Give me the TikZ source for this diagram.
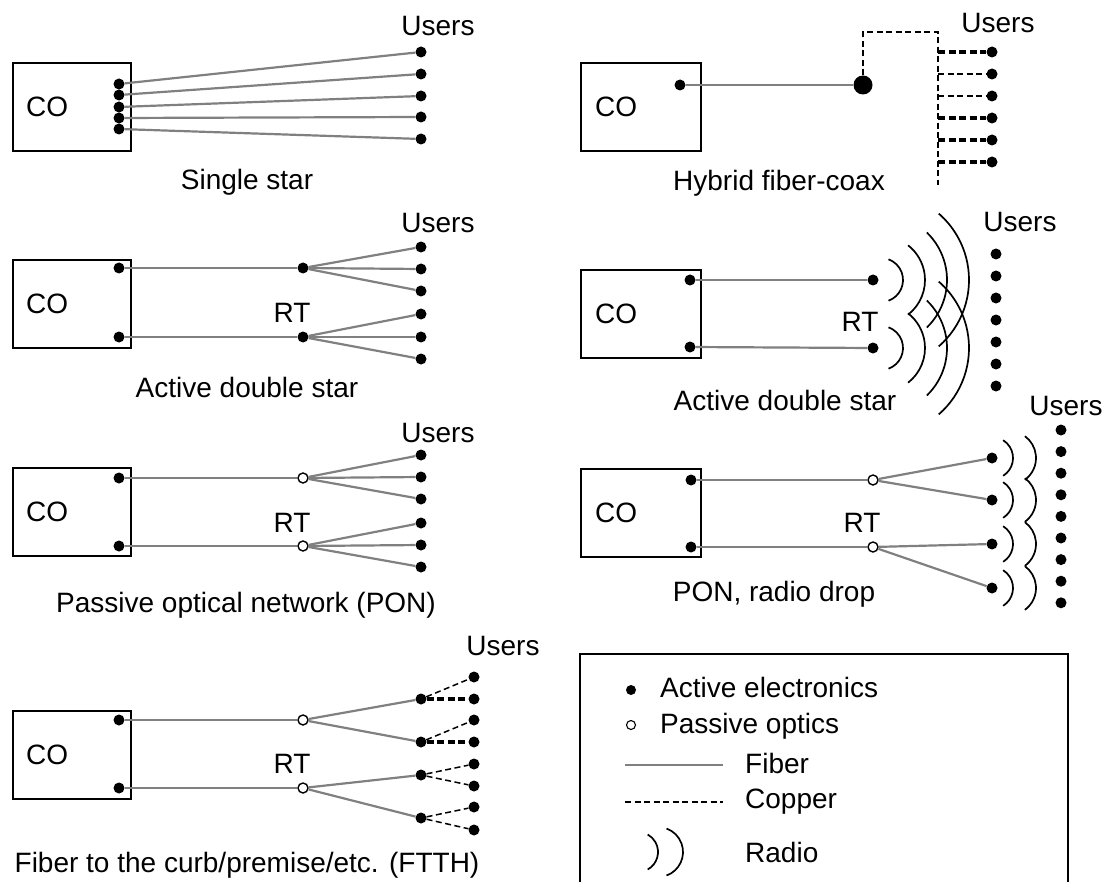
\documentclass[tikz,border=0pt]{standalone}
\usepackage{fontspec}
\setmainfont{Liberation Sans}
\usetikzlibrary{positioning}

\begin{document}
\begin{tikzpicture}[x=1pt,y=-1pt,
  lbl/.style={inner sep=0pt,font=\fontsize{28}{32}\selectfont},
  cobox/.style={draw,line width=2pt,minimum width=118pt,minimum height=88pt,inner sep=0pt},
  adot/.style={circle,fill=black,inner sep=0pt,minimum size=11pt},
  pdot/.style={circle,draw=black,fill=white,line width=1.4pt,inner sep=0pt,minimum size=10pt},
  fiber/.style={draw=black!50,line width=2.2pt},
  copper/.style={dash pattern=on 6pt off 3.5pt,line width=1.5pt},
  thickcu/.style={dash pattern=on 7pt off 3.5pt,line width=3.2pt},
  radio/.style={line width=1.7pt}]
  \useasboundingbox (0,0) rectangle (1107,882);
  % single star
  \node[cobox] (co1) at (72,107) {};
  \node[lbl,right=14pt of co1.west] (co1t) {CO};
  \foreach \i/\y in {1/84,2/95,3/107,4/118,5/129} \node[adot] (s\i) at (119,\y) {};
  \foreach \i/\y in {1/52,2/74,3/96,4/117,5/139} \node[adot] (su\i) at (421,\y) {};
  \foreach \i in {1,...,5} \draw[fiber] (s\i) -- (su\i);
  \node[lbl,anchor=base] (us1) at (438,36) {Users};
  \node[lbl,anchor=base] (cap1) at (247,190) {Single star};
  % active double star
  \node[cobox] (co2) at (72,304) {};
  \node[lbl,right=14pt of co2.west] (co2t) {CO};
  \node[adot] (c2a) at (119,268) {};
  \node[adot] (c2b) at (119,337) {};
  \node[adot] (r2a) at (303,268) {};
  \node[adot] (r2b) at (303,337) {};
  \draw[fiber] (c2a) -- (r2a);
  \draw[fiber] (c2b) -- (r2b);
  \foreach \i/\y in {1/247,2/269,3/291} {
    \node[adot] (u2a\i) at (421,\y) {};
    \draw[fiber] (r2a) -- (u2a\i);
  }
  \foreach \i/\y in {1/314,2/337,3/359} {
    \node[adot] (u2b\i) at (421,\y) {};
    \draw[fiber] (r2b) -- (u2b\i);
  }
  \node[lbl,anchor=base] (rt2) at (292,322) {RT};
  \node[lbl,anchor=base] (us2) at (438,233) {Users};
  \node[lbl,anchor=base] (cap2) at (247,397) {Active double star};
  % passive optical network
  \node[cobox] (co3) at (72,512) {};
  \node[lbl,right=14pt of co3.west] (co3t) {CO};
  \node[adot] (c3a) at (119,478) {};
  \node[adot] (c3b) at (119,546) {};
  \node[pdot] (r3a) at (303,478) {};
  \node[pdot] (r3b) at (303,546) {};
  \draw[fiber] (c3a) -- (r3a);
  \draw[fiber] (c3b) -- (r3b);
  \foreach \i/\y in {1/455,2/477,3/499} {
    \node[adot] (u3a\i) at (421,\y) {};
    \draw[fiber] (r3a) -- (u3a\i);
  }
  \foreach \i/\y in {1/523,2/545,3/567} {
    \node[adot] (u3b\i) at (421,\y) {};
    \draw[fiber] (r3b) -- (u3b\i);
  }
  \node[lbl,anchor=base] (rt3) at (292,532) {RT};
  \node[lbl,anchor=base] (us3) at (438,442) {Users};
  \node[lbl,anchor=base] (cap3) at (246,612) {Passive optical network (PON)};
  % fiber to the curb
  \node[cobox] (co4) at (72,755) {};
  \node[lbl,right=14pt of co4.west] (co4t) {CO};
  \node[adot] (c4a) at (119,720) {};
  \node[adot] (c4b) at (119,788) {};
  \node[pdot] (r4a) at (303,720) {};
  \node[pdot] (r4b) at (303,788) {};
  \draw[fiber] (c4a) -- (r4a);
  \draw[fiber] (c4b) -- (r4b);
  \foreach \i/\y in {1/699,2/742,3/775,4/818} \node[adot] (m4\i) at (421,\y) {};
  \draw[fiber] (r4a) -- (m41);
  \draw[fiber] (r4a) -- (m42);
  \draw[fiber] (r4b) -- (m43);
  \draw[fiber] (r4b) -- (m44);
  \foreach \i/\y in {1/677,2/699,3/720,4/742,5/764,6/786,7/807,8/830} \node[adot] (u4\i) at (474,\y) {};
  \draw[copper] (m41) -- (u41);
  \draw[thickcu] (m41) -- (u42);
  \draw[copper] (m42) -- (u43);
  \draw[thickcu] (m42) -- (u44);
  \draw[copper] (m43) -- (u45);
  \draw[copper] (m43) -- (u46);
  \draw[copper] (m44) -- (u47);
  \draw[copper] (m44) -- (u48);
  \node[lbl,anchor=base] (rt4) at (292,773) {RT};
  \node[lbl,anchor=base] (us4) at (503,655) {Users};
  \node[lbl,anchor=base] (cap4) at (247,872) {Fiber to the curb/premise/etc. (FTTH)};
  % hybrid fiber-coax
  \node[cobox,minimum width=120pt] (co5) at (641,107) {};
  \node[lbl,right=15pt of co5.west] (co5t) {CO};
  \node[adot] (c5) at (680,85) {};
  \node[adot,minimum size=19pt] (hub) at (863,85) {};
  \draw[fiber] (c5) -- (hub);
  \coordinate (tap) at (863,32);
  \coordinate (ttop) at (938,32);
  \coordinate (tbot) at (938,185);
  \draw[copper,line width=1.8pt] (hub) -- (tap) -- (ttop) -- (tbot);
  \foreach \i/\y in {1/52,2/74,3/96,4/118,5/140,6/162} \node[adot] (h\i) at (992,\y) {};
  \foreach \i in {1,4,5,6} \draw[thickcu] (ttop |- h\i) -- (h\i);
  \foreach \i in {2,3} \draw[copper] (ttop |- h\i) -- (h\i);
  \node[lbl,anchor=base] (us5) at (998,33) {Users};
  \node[lbl,anchor=base] (cap5) at (779,191) {Hybrid fiber-coax};
  % active double star, radio
  \node[cobox,minimum width=120pt] (co6) at (641,314) {};
  \node[lbl,right=15pt of co6.west] (co6t) {CO};
  \node[adot] (c6a) at (690,280) {};
  \node[adot] (c6b) at (690,347) {};
  \node[adot] (r6a) at (873,280) {};
  \node[adot] (r6b) at (873,348) {};
  \draw[fiber] (c6a) -- (r6a);
  \draw[fiber] (c6b) -- (r6b);
  \foreach \r/\a in {22/70,44/52,66/46,88/49} {
    \draw[radio] ([xshift=8pt]r6a.center) ++(\a:\r) arc (\a:-\a:\r);
    \draw[radio] ([xshift=8pt]r6b.center) ++(\a:\r) arc (\a:-\a:\r);
  }
  \foreach \i in {0,...,6} \node[adot] (u6\i) at (996,254+22*\i) {};
  \node[lbl,anchor=base] (rt6) at (860,331) {RT};
  \node[lbl,anchor=base] (us6) at (1020,232) {Users};
  \node[lbl,anchor=base] (cap6) at (785,410) {Active double star};
  % PON, radio drop
  \node[cobox,minimum width=120pt] (co7) at (641,513) {};
  \node[lbl,right=15pt of co7.west] (co7t) {CO};
  \node[adot] (c7a) at (691,480) {};
  \node[adot] (c7b) at (691,547) {};
  \node[pdot] (r7a) at (873,480) {};
  \node[pdot] (r7b) at (873,547) {};
  \draw[fiber] (c7a) -- (r7a);
  \draw[fiber] (c7b) -- (r7b);
  \foreach \i/\y in {1/458,2/500,3/544,4/588} {
    \node[adot] (d7\i) at (992,\y) {};
    \draw[radio] (d7\i.center) ++(58:21) arc (58:-58:21);
    \draw[radio] ([xshift=17pt]d7\i.center) ++(54:27) arc (54:-54:27);
  }
  \draw[fiber] (r7a) -- (d71);
  \draw[fiber] (r7a) -- (d72);
  \draw[fiber] (r7b) -- (d73);
  \draw[fiber] (r7b) -- (d74);
  \foreach \i in {0,...,8} \node[adot] (u7\i) at (1061,430+21.6*\i) {};
  \node[lbl,anchor=base] (rt7) at (862,532) {RT};
  \node[lbl,anchor=base] (us7) at (1066,415) {Users};
  \node[lbl,anchor=base] (cap7) at (774,601) {PON, radio drop};
  % legend
  \draw[line width=2pt] (580,890) |- (1068,654) -- (1068,890);
  \node[adot,minimum size=10pt] (la) at (631,690) {};
  \node[pdot,minimum size=9pt,line width=1.1pt] (lp) at (631,725) {};
  \node[lbl,anchor=base west] (lat) at (660,697) {Active electronics};
  \node[lbl,anchor=base west] (lpt) at (660,733) {Passive optics};
  \coordinate (lf1) at (625,765);
  \coordinate (lf2) at (723,765);
  \draw[fiber] (lf1) -- (lf2);
  \node[lbl,anchor=base west] (lft) at (745,773) {Fiber};
  \coordinate (lc1) at (625,802);
  \coordinate (lc2) at (723,802);
  \draw[copper] (lc1) -- (lc2);
  \node[lbl,anchor=base west] (lct) at (745,808) {Copper};
  \coordinate (lr) at (638,852);
  \draw[radio] (lr) ++(61:20) arc (61:-61:20);
  \draw[radio] ([xshift=20pt]lr) ++(70:25) arc (70:-70:25);
  \node[lbl,anchor=base west] (lrt) at (745,862) {Radio};
\end{tikzpicture}
\end{document}
